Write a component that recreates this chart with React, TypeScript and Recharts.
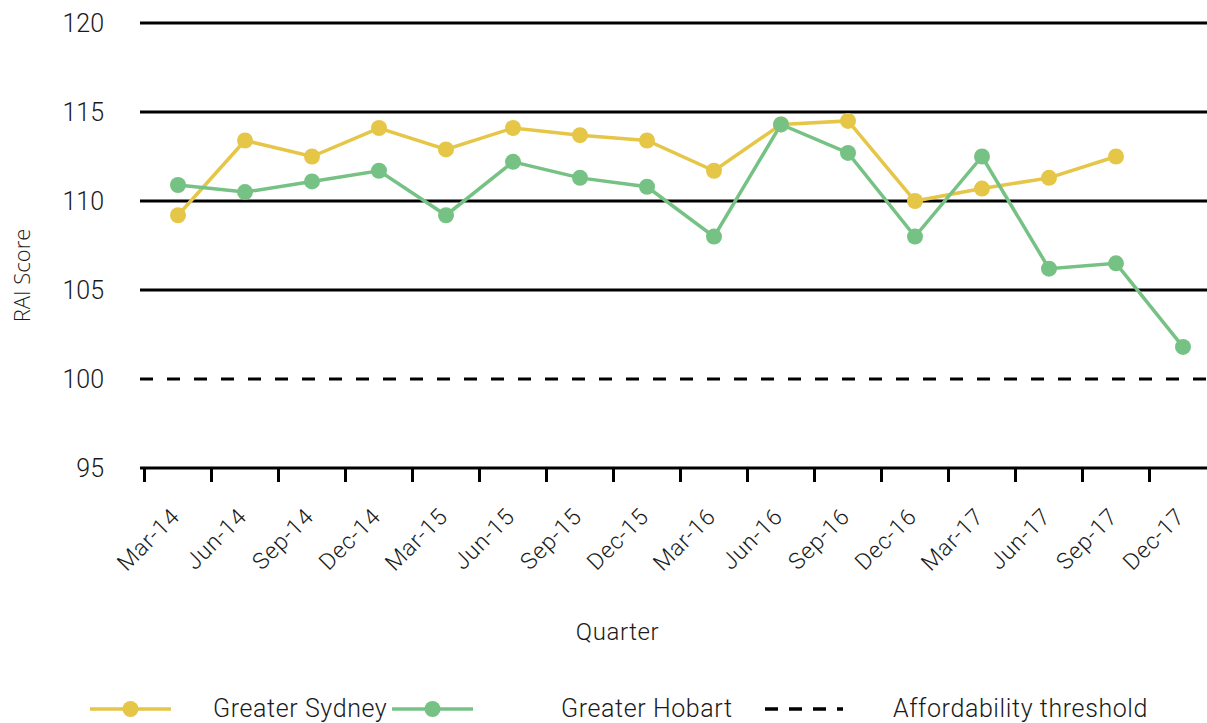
import React from "react";
import {
  LineChart,
  Line,
  XAxis,
  YAxis,
  CartesianGrid,
  ReferenceLine,
  Legend,
} from "recharts";

const quarters = [
  "Mar-14", "Jun-14", "Sep-14", "Dec-14",
  "Mar-15", "Jun-15", "Sep-15", "Dec-15",
  "Mar-16", "Jun-16", "Sep-16", "Dec-16",
  "Mar-17", "Jun-17", "Sep-17", "Dec-17",
];

const sydney = [
  109.2, 113.4, 112.5, 114.1, 112.9, 114.1, 113.7, 113.4,
  111.7, 114.3, 114.5, 110.0, 110.7, 111.3, 112.5, null,
];

const hobart = [
  110.9, 110.5, 111.1, 111.7, 109.2, 112.2, 111.3, 110.8,
  108.0, 114.3, 112.7, 108.0, 112.5, 106.2, 106.5, 101.8,
];

const yTicks = [95, 100, 105, 110, 115, 120];
const gridValues = [105, 110, 115, 120];
const threshold = 100;

const data = quarters.map((q, i) => ({
  quarter: q,
  sydney: sydney[i],
  hobart: hobart[i],
}));

const FONT = "Roboto, 'Noto Sans', sans-serif";
const YELLOW = "#E5C647";
const GREEN = "#76C284";
const TEXT = "#1a1a1a";
const HALF_STEP = 33.5;

const QuarterTick = (props: any) => {
  const { x, y, payload } = props;
  const half = payload && payload.offset ? payload.offset : HALF_STEP;
  return (
    <g>
      <line x1={x - half} y1={y} x2={x - half} y2={y + 14} stroke="#000" strokeWidth={3} />
      <text
        x={x + 3}
        y={y + 50}
        transform={`rotate(-45, ${x + 3}, ${y + 50})`}
        textAnchor="end"
        fontFamily={FONT}
        fontWeight={300}
        fontSize={23}
        letterSpacing={0.8}
        fill={TEXT}
      >
        {payload.value}
      </text>
    </g>
  );
};

const LegendContent = () => {
  const label = {
    fontFamily: FONT,
    fontWeight: 300,
    fontSize: 25,
    letterSpacing: 0.6,
    color: TEXT,
    lineHeight: "30px",
  };
  return (
    <div style={{ display: "flex", alignItems: "center", paddingLeft: 90, height: 40 }}>
      <div style={{ width: 302, display: "flex", alignItems: "center" }}>
        <svg width={81} height={20} style={{ marginRight: 42 }}>
          <line x1={0} y1={10} x2={81} y2={10} stroke={YELLOW} strokeWidth={3.5} />
          <circle cx={40.5} cy={10} r={8} fill={YELLOW} />
        </svg>
        <span style={label}>Greater Sydney</span>
      </div>
      <div style={{ width: 373, display: "flex", alignItems: "center" }}>
        <svg width={81} height={20} style={{ marginRight: 88 }}>
          <line x1={0} y1={10} x2={81} y2={10} stroke={GREEN} strokeWidth={3.5} />
          <circle cx={40.5} cy={10} r={8} fill={GREEN} />
        </svg>
        <span style={label}>Greater Hobart</span>
      </div>
      <div style={{ display: "flex", alignItems: "center" }}>
        <svg width={78} height={20} style={{ marginRight: 50 }}>
          <line x1={0} y1={10} x2={78} y2={10} stroke="#000" strokeWidth={3.5} strokeDasharray="13 11" />
        </svg>
        <span style={label}>Affordability threshold</span>
      </div>
    </div>
  );
};

export default function App() {
  return (
    <div
      style={{
        position: "absolute",
        left: 0,
        top: 0,
        width: 1207,
        height: 723,
        overflow: "hidden",
        background: "#fff",
      }}
    >
      <LineChart
        width={1220}
        height={723}
        data={data}
        margin={{ top: 23, right: 5, bottom: 0, left: 0 }}
      >
        <CartesianGrid
          vertical={false}
          horizontalValues={gridValues}
          stroke="#000"
          strokeWidth={3}
        />
        <XAxis
          dataKey="quarter"
          type="category"
          interval={0}
          height={215}
          padding={{ left: 38, right: 32 }}
          axisLine={{ stroke: "#000", strokeWidth: 3 }}
          tickLine={false}
          tickSize={0}
          tickMargin={0}
          tick={<QuarterTick />}
          label={{
            content: (p: any) => {
              const vb = p.viewBox;
              return (
                <text
                  x={vb.x + vb.width / 2 - 60}
                  y={vb.y + 172}
                  textAnchor="middle"
                  fontFamily={FONT}
                  fontWeight={300}
                  fontSize={24}
                  letterSpacing={0.6}
                  fill={TEXT}
                >
                  Quarter
                </text>
              );
            },
          }}
        />
        <YAxis
          domain={[95, 120]}
          ticks={yTicks}
          width={140}
          axisLine={false}
          tickLine={false}
          tickSize={0}
          tickMargin={36}
          tick={{ fontFamily: FONT, fontWeight: 300, fontSize: 25, fill: TEXT }}
          label={{
            content: (p: any) => {
              const vb = p.viewBox;
              const cx = 30;
              const cy = vb.y + vb.height / 2 + 30;
              return (
                <text
                  x={cx}
                  y={cy}
                  transform={`rotate(-90, ${cx}, ${cy})`}
                  textAnchor="middle"
                  fontFamily="'Open Sans', 'Noto Sans', sans-serif"
                  fontWeight={300}
                  fontSize={22}
                  fill={TEXT}
                >
                  RAI Score
                </text>
              );
            },
          }}
        />
        <ReferenceLine
          y={threshold}
          stroke="#000"
          strokeWidth={3}
          strokeDasharray="13 14"
        />
        <Line
          dataKey="sydney"
          name="Greater Sydney"
          stroke={YELLOW}
          strokeWidth={3.5}
          dot={{ r: 8, fill: YELLOW, stroke: "none" }}
          activeDot={false}
          isAnimationActive={false}
        />
        <Line
          dataKey="hobart"
          name="Greater Hobart"
          stroke={GREEN}
          strokeWidth={3.5}
          dot={{ r: 8, fill: GREEN, stroke: "none" }}
          activeDot={false}
          isAnimationActive={false}
        />
        <Legend
          verticalAlign="bottom"
          height={40}
          content={<LegendContent />}
          wrapperStyle={{ left: 0, bottom: -6, width: 1220 }}
        />
      </LineChart>
    </div>
  );
}
